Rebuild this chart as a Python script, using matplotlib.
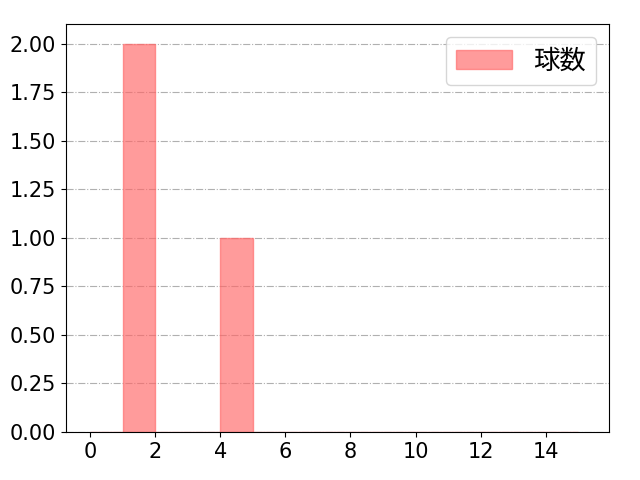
import matplotlib.pyplot as plt

plt.rcParams['font.family'] = ['DejaVu Sans', 'Noto Sans CJK JP']

# histogram of pitch counts (bin left edges, width 1)
bin_edges = [0, 1, 2, 3, 4, 5, 6, 7, 8, 9, 10, 11, 12, 13, 14, 15]
counts = [0, 2, 0, 0, 1, 0, 0, 0, 0, 0, 0, 0, 0, 0, 0]
label = "球数"

fig, ax = plt.subplots(figsize=(6.4, 4.8), dpi=100)
ax.bar(bin_edges[:-1], counts, width=1, align="edge",
       color="#ff6666", alpha=0.65, edgecolor="#ff6666", linewidth=1, label=label)
ax.set_xlim(-0.74, 15.95)
ax.set_ylim(0, 2.103)
ax.set_yticks([0, 0.25, 0.5, 0.75, 1.0, 1.25, 1.5, 1.75, 2.0])
ax.set_yticklabels([f"{v:.2f}" for v in ax.get_yticks()])
ax.set_xticks([0, 2, 4, 6, 8, 10, 12, 14])
ax.tick_params(labelsize=15)
ax.grid(axis="y", linestyle="-.", color="#b0b0b0", linewidth=0.8)
ax.set_axisbelow(True)
ax.legend(loc="upper right", prop={"family": "Noto Sans CJK JP", "size": 19},
          handlelength=2.1)
fig.subplots_adjust(left=0.103, right=0.952, top=0.95, bottom=0.1)
plt.savefig("out.png")
